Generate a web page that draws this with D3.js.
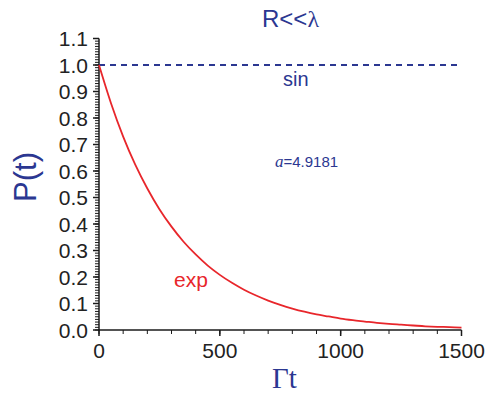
<!DOCTYPE html>
<html>
<head>
<meta charset="utf-8">
<script src="https://cdn.jsdelivr.net/npm/d3@7"></script>
<style>
  html, body { margin: 0; padding: 0; background: #fff; }
  svg { display: block; font-family: "Liberation Sans", Arial, sans-serif; }
</style>
</head>
<body>
<svg id="chart" width="495" height="394"></svg>
<script>
// Data
const tValues = [0, 50, 100, 150, 200, 250, 300, 350, 400, 450, 500, 550, 600, 650, 700, 750,
                 800, 850, 900, 950, 1000, 1050, 1100, 1150, 1200, 1250, 1300, 1350, 1400, 1450, 1500];
const expValues = [1.000, 0.855, 0.730, 0.624, 0.534, 0.456, 0.390, 0.333, 0.285, 0.243, 0.208,
                   0.178, 0.152, 0.130, 0.111, 0.095, 0.081, 0.069, 0.059, 0.051, 0.043, 0.037,
                   0.032, 0.027, 0.023, 0.020, 0.017, 0.014, 0.012, 0.011, 0.009];
const sinT = [0, 1500];
const sinValues = [1.0, 1.0];
const xTicks = [0, 500, 1000, 1500];
const yTicks = [0, 0.1, 0.2, 0.3, 0.4, 0.5, 0.6, 0.7, 0.8, 0.9, 1.0, 1.1];
const titleText = "R<<";
const aLabel = "=4.9181";

const blue = "#2b3791";
const red = "#e8262b";
const axisColor = "#1a1a1a";
const serif = "'Liberation Serif', 'Times New Roman', serif";

const svg = d3.select("#chart");
const x = d3.scaleLinear().domain([0, 1500]).range([99, 461.5]);
const y = d3.scaleLinear().domain([0, 1.1]).range([330, 38.5]);

// Minor ticks
const yMinor = d3.range(0, 111).map(i => i / 100);
const xMinor = d3.range(0, 1501, 100);

const gy = svg.append("g");
gy.selectAll("line.minor").data(yMinor).join("line")
  .attr("x1", 95).attr("x2", 99)
  .attr("y1", d => y(d)).attr("y2", d => y(d))
  .attr("stroke", axisColor).attr("stroke-width", 1);
gy.selectAll("line.major").data(yTicks).join("line")
  .attr("x1", 93).attr("x2", 99)
  .attr("y1", d => y(d)).attr("y2", d => y(d))
  .attr("stroke", axisColor).attr("stroke-width", 1.5);
gy.selectAll("text").data(yTicks).join("text")
  .attr("x", 88).attr("y", d => y(d) + 7.5)
  .attr("text-anchor", "end")
  .attr("font-size", 21).attr("fill", "#222")
  .text(d => d.toFixed(1));

const gx = svg.append("g");
gx.selectAll("line.minor").data(xMinor).join("line")
  .attr("x1", d => x(d)).attr("x2", d => x(d))
  .attr("y1", 330).attr("y2", 334)
  .attr("stroke", axisColor).attr("stroke-width", 1);
gx.selectAll("line.major").data(xTicks).join("line")
  .attr("x1", d => x(d)).attr("x2", d => x(d))
  .attr("y1", 330).attr("y2", 336)
  .attr("stroke", axisColor).attr("stroke-width", 1.5);
gx.selectAll("text").data(xTicks).join("text")
  .attr("x", d => x(d)).attr("y", 358)
  .attr("text-anchor", "middle")
  .attr("font-size", 21).attr("fill", "#222")
  .text(d => d);

// Axis lines
svg.append("line").attr("x1", 99).attr("x2", 99).attr("y1", y(1.1)).attr("y2", 330.5)
  .attr("stroke", axisColor).attr("stroke-width", 1.5);
svg.append("line").attr("x1", 98.5).attr("x2", x(1500)).attr("y1", 330).attr("y2", 330)
  .attr("stroke", axisColor).attr("stroke-width", 1.5);

// Series
const line = d3.line().x(d => x(d[0])).y(d => y(d[1])).curve(d3.curveMonotoneX);
svg.append("path")
  .datum(sinT.map((t, i) => [t, sinValues[i]]))
  .attr("d", line)
  .attr("fill", "none").attr("stroke", blue).attr("stroke-width", 2)
  .attr("stroke-dasharray", "6,5");
svg.append("path")
  .datum(tValues.map((t, i) => [t, expValues[i]]))
  .attr("d", line)
  .attr("fill", "none").attr("stroke", red).attr("stroke-width", 1.8);

// Annotations
const title = svg.append("text").attr("x", 262).attr("y", 27)
  .attr("font-size", 24).attr("fill", blue);
title.append("tspan").text(titleText);
title.append("tspan").style("font-family", serif).text("λ");

svg.append("text").attr("x", 283).attr("y", 86)
  .attr("font-size", 20).attr("fill", blue).text("sin");

const aT = svg.append("text").attr("x", 275).attr("y", 167)
  .attr("font-size", 15).attr("fill", blue);
aT.append("tspan").style("font-family", serif)
  .style("font-style", "italic").attr("font-size", 17).text("a");
aT.append("tspan").text(aLabel);

svg.append("text").attr("x", 174).attr("y", 287)
  .attr("font-size", 21).attr("fill", red).text("exp");

svg.append("text")
  .attr("transform", "translate(36,177) rotate(-90)")
  .attr("text-anchor", "middle")
  .attr("font-size", 31).attr("fill", blue).text("P(t)");

svg.append("text").attr("x", 272).attr("y", 387.5)
  .style("font-family", serif)
  .attr("font-size", 29).attr("fill", blue).text("Γt");
</script>
</body>
</html>
